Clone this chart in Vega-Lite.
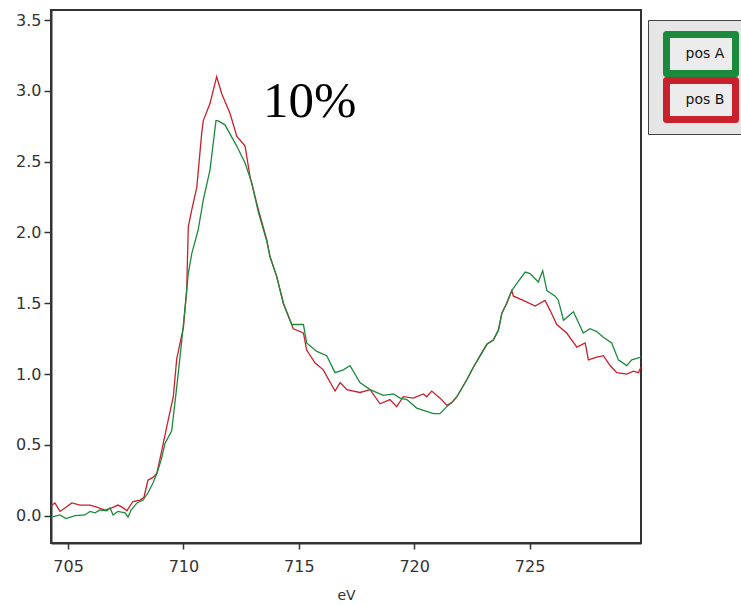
{
  "$schema": "https://vega.github.io/schema/vega-lite/v6.json",
  "autosize": {"type": "none"},
  "padding": {"left": 51, "top": 10, "right": 100, "bottom": 62},
  "width": 590,
  "height": 533,
  "background": "white",
  "config": {
    "view": {"stroke": "#333", "strokeWidth": 2},
    "axis": {"grid": false, "domainColor": "#333", "domainWidth": 2, "tickColor": "#333", "tickWidth": 1.5, "labelFont": "DejaVu Sans", "labelFontSize": 16, "labelColor": "#333", "titleFont": "DejaVu Sans", "titleFontSize": 14, "titleFontWeight": "normal", "titleColor": "#333"}
  },
  "layer": [
    {
      "data": {"values": [
        {"eV": 704.26, "v": 0.07, "s": "pos B"},
        {"eV": 704.43, "v": 0.09, "s": "pos B"},
        {"eV": 704.65, "v": 0.03, "s": "pos B"},
        {"eV": 704.91, "v": 0.06, "s": "pos B"},
        {"eV": 705.16, "v": 0.09, "s": "pos B"},
        {"eV": 705.52, "v": 0.075, "s": "pos B"},
        {"eV": 705.95, "v": 0.075, "s": "pos B"},
        {"eV": 706.24, "v": 0.06, "s": "pos B"},
        {"eV": 706.6, "v": 0.04, "s": "pos B"},
        {"eV": 706.9, "v": 0.055, "s": "pos B"},
        {"eV": 707.16, "v": 0.075, "s": "pos B"},
        {"eV": 707.34, "v": 0.06, "s": "pos B"},
        {"eV": 707.55, "v": 0.035, "s": "pos B"},
        {"eV": 707.81, "v": 0.1, "s": "pos B"},
        {"eV": 708.12, "v": 0.11, "s": "pos B"},
        {"eV": 708.29, "v": 0.13, "s": "pos B"},
        {"eV": 708.46, "v": 0.25, "s": "pos B"},
        {"eV": 708.68, "v": 0.27, "s": "pos B"},
        {"eV": 708.85, "v": 0.3, "s": "pos B"},
        {"eV": 709.06, "v": 0.46, "s": "pos B"},
        {"eV": 709.28, "v": 0.63, "s": "pos B"},
        {"eV": 709.56, "v": 0.84, "s": "pos B"},
        {"eV": 709.71, "v": 1.11, "s": "pos B"},
        {"eV": 710.0, "v": 1.33, "s": "pos B"},
        {"eV": 710.14, "v": 1.59, "s": "pos B"},
        {"eV": 710.21, "v": 2.04, "s": "pos B"},
        {"eV": 710.36, "v": 2.16, "s": "pos B"},
        {"eV": 710.58, "v": 2.32, "s": "pos B"},
        {"eV": 710.79, "v": 2.7, "s": "pos B"},
        {"eV": 710.86, "v": 2.79, "s": "pos B"},
        {"eV": 711.15, "v": 2.91, "s": "pos B"},
        {"eV": 711.44, "v": 3.1, "s": "pos B"},
        {"eV": 711.66, "v": 2.98, "s": "pos B"},
        {"eV": 712.02, "v": 2.84, "s": "pos B"},
        {"eV": 712.31, "v": 2.68, "s": "pos B"},
        {"eV": 712.67, "v": 2.61, "s": "pos B"},
        {"eV": 712.89, "v": 2.39, "s": "pos B"},
        {"eV": 713.25, "v": 2.16, "s": "pos B"},
        {"eV": 713.61, "v": 1.95, "s": "pos B"},
        {"eV": 713.75, "v": 1.83, "s": "pos B"},
        {"eV": 714.04, "v": 1.69, "s": "pos B"},
        {"eV": 714.33, "v": 1.5, "s": "pos B"},
        {"eV": 714.69, "v": 1.35, "s": "pos B"},
        {"eV": 714.76, "v": 1.32, "s": "pos B"},
        {"eV": 715.2, "v": 1.29, "s": "pos B"},
        {"eV": 715.34, "v": 1.17, "s": "pos B"},
        {"eV": 715.7, "v": 1.08, "s": "pos B"},
        {"eV": 716.06, "v": 1.03, "s": "pos B"},
        {"eV": 716.57, "v": 0.88, "s": "pos B"},
        {"eV": 716.79, "v": 0.94, "s": "pos B"},
        {"eV": 717.08, "v": 0.89, "s": "pos B"},
        {"eV": 717.65, "v": 0.87, "s": "pos B"},
        {"eV": 718.09, "v": 0.89, "s": "pos B"},
        {"eV": 718.52, "v": 0.79, "s": "pos B"},
        {"eV": 718.95, "v": 0.82, "s": "pos B"},
        {"eV": 719.24, "v": 0.77, "s": "pos B"},
        {"eV": 719.53, "v": 0.84, "s": "pos B"},
        {"eV": 719.96, "v": 0.83, "s": "pos B"},
        {"eV": 720.4, "v": 0.86, "s": "pos B"},
        {"eV": 720.54, "v": 0.84, "s": "pos B"},
        {"eV": 720.76, "v": 0.88, "s": "pos B"},
        {"eV": 721.12, "v": 0.83, "s": "pos B"},
        {"eV": 721.41, "v": 0.78, "s": "pos B"},
        {"eV": 721.64, "v": 0.8, "s": "pos B"},
        {"eV": 721.85, "v": 0.84, "s": "pos B"},
        {"eV": 722.28, "v": 0.96, "s": "pos B"},
        {"eV": 722.57, "v": 1.05, "s": "pos B"},
        {"eV": 722.86, "v": 1.13, "s": "pos B"},
        {"eV": 723.15, "v": 1.21, "s": "pos B"},
        {"eV": 723.43, "v": 1.24, "s": "pos B"},
        {"eV": 723.65, "v": 1.31, "s": "pos B"},
        {"eV": 723.8, "v": 1.43, "s": "pos B"},
        {"eV": 724.01, "v": 1.5, "s": "pos B"},
        {"eV": 724.23, "v": 1.59, "s": "pos B"},
        {"eV": 724.3, "v": 1.55, "s": "pos B"},
        {"eV": 724.73, "v": 1.52, "s": "pos B"},
        {"eV": 725.24, "v": 1.48, "s": "pos B"},
        {"eV": 725.67, "v": 1.52, "s": "pos B"},
        {"eV": 725.89, "v": 1.45, "s": "pos B"},
        {"eV": 726.18, "v": 1.35, "s": "pos B"},
        {"eV": 726.61, "v": 1.29, "s": "pos B"},
        {"eV": 727.05, "v": 1.19, "s": "pos B"},
        {"eV": 727.41, "v": 1.22, "s": "pos B"},
        {"eV": 727.55, "v": 1.1, "s": "pos B"},
        {"eV": 727.91, "v": 1.12, "s": "pos B"},
        {"eV": 728.2, "v": 1.13, "s": "pos B"},
        {"eV": 728.49, "v": 1.06, "s": "pos B"},
        {"eV": 728.78, "v": 1.01, "s": "pos B"},
        {"eV": 729.21, "v": 1.0, "s": "pos B"},
        {"eV": 729.5, "v": 1.02, "s": "pos B"},
        {"eV": 729.72, "v": 1.01, "s": "pos B"},
        {"eV": 729.83, "v": 1.05, "s": "pos B"},
        {"eV": 704.26, "v": -0.01, "s": "pos A"},
        {"eV": 704.65, "v": 0.005, "s": "pos A"},
        {"eV": 704.91, "v": -0.02, "s": "pos A"},
        {"eV": 705.3, "v": 0.0, "s": "pos A"},
        {"eV": 705.73, "v": 0.005, "s": "pos A"},
        {"eV": 705.95, "v": 0.03, "s": "pos A"},
        {"eV": 706.17, "v": 0.02, "s": "pos A"},
        {"eV": 706.38, "v": 0.04, "s": "pos A"},
        {"eV": 706.69, "v": 0.035, "s": "pos A"},
        {"eV": 706.82, "v": 0.055, "s": "pos A"},
        {"eV": 706.95, "v": 0.005, "s": "pos A"},
        {"eV": 707.16, "v": 0.03, "s": "pos A"},
        {"eV": 707.47, "v": 0.02, "s": "pos A"},
        {"eV": 707.6, "v": -0.01, "s": "pos A"},
        {"eV": 707.73, "v": 0.04, "s": "pos A"},
        {"eV": 707.99, "v": 0.09, "s": "pos A"},
        {"eV": 708.25, "v": 0.11, "s": "pos A"},
        {"eV": 708.46, "v": 0.16, "s": "pos A"},
        {"eV": 708.68, "v": 0.23, "s": "pos A"},
        {"eV": 708.85, "v": 0.3, "s": "pos A"},
        {"eV": 709.03, "v": 0.39, "s": "pos A"},
        {"eV": 709.2, "v": 0.51, "s": "pos A"},
        {"eV": 709.49, "v": 0.6, "s": "pos A"},
        {"eV": 709.71, "v": 0.91, "s": "pos A"},
        {"eV": 709.93, "v": 1.24, "s": "pos A"},
        {"eV": 710.1, "v": 1.52, "s": "pos A"},
        {"eV": 710.21, "v": 1.71, "s": "pos A"},
        {"eV": 710.36, "v": 1.85, "s": "pos A"},
        {"eV": 710.64, "v": 2.02, "s": "pos A"},
        {"eV": 710.86, "v": 2.23, "s": "pos A"},
        {"eV": 711.15, "v": 2.44, "s": "pos A"},
        {"eV": 711.41, "v": 2.79, "s": "pos A"},
        {"eV": 711.49, "v": 2.79, "s": "pos A"},
        {"eV": 711.8, "v": 2.76, "s": "pos A"},
        {"eV": 712.31, "v": 2.61, "s": "pos A"},
        {"eV": 712.67, "v": 2.49, "s": "pos A"},
        {"eV": 712.96, "v": 2.35, "s": "pos A"},
        {"eV": 713.25, "v": 2.14, "s": "pos A"},
        {"eV": 713.61, "v": 1.94, "s": "pos A"},
        {"eV": 713.75, "v": 1.83, "s": "pos A"},
        {"eV": 714.04, "v": 1.69, "s": "pos A"},
        {"eV": 714.33, "v": 1.5, "s": "pos A"},
        {"eV": 714.69, "v": 1.35, "s": "pos A"},
        {"eV": 715.2, "v": 1.35, "s": "pos A"},
        {"eV": 715.34, "v": 1.22, "s": "pos A"},
        {"eV": 715.78, "v": 1.16, "s": "pos A"},
        {"eV": 716.21, "v": 1.13, "s": "pos A"},
        {"eV": 716.57, "v": 1.01, "s": "pos A"},
        {"eV": 716.93, "v": 1.03, "s": "pos A"},
        {"eV": 717.22, "v": 1.06, "s": "pos A"},
        {"eV": 717.65, "v": 0.94, "s": "pos A"},
        {"eV": 718.09, "v": 0.89, "s": "pos A"},
        {"eV": 718.66, "v": 0.85, "s": "pos A"},
        {"eV": 719.1, "v": 0.86, "s": "pos A"},
        {"eV": 719.39, "v": 0.83, "s": "pos A"},
        {"eV": 719.68, "v": 0.82, "s": "pos A"},
        {"eV": 720.11, "v": 0.76, "s": "pos A"},
        {"eV": 720.83, "v": 0.72, "s": "pos A"},
        {"eV": 721.12, "v": 0.72, "s": "pos A"},
        {"eV": 721.41, "v": 0.77, "s": "pos A"},
        {"eV": 721.64, "v": 0.8, "s": "pos A"},
        {"eV": 721.85, "v": 0.84, "s": "pos A"},
        {"eV": 722.28, "v": 0.96, "s": "pos A"},
        {"eV": 722.57, "v": 1.05, "s": "pos A"},
        {"eV": 722.86, "v": 1.13, "s": "pos A"},
        {"eV": 723.15, "v": 1.21, "s": "pos A"},
        {"eV": 723.43, "v": 1.24, "s": "pos A"},
        {"eV": 723.65, "v": 1.31, "s": "pos A"},
        {"eV": 723.8, "v": 1.43, "s": "pos A"},
        {"eV": 724.01, "v": 1.5, "s": "pos A"},
        {"eV": 724.23, "v": 1.59, "s": "pos A"},
        {"eV": 724.45, "v": 1.64, "s": "pos A"},
        {"eV": 724.81, "v": 1.72, "s": "pos A"},
        {"eV": 725.02, "v": 1.71, "s": "pos A"},
        {"eV": 725.38, "v": 1.65, "s": "pos A"},
        {"eV": 725.57, "v": 1.73, "s": "pos A"},
        {"eV": 725.75, "v": 1.59, "s": "pos A"},
        {"eV": 726.11, "v": 1.55, "s": "pos A"},
        {"eV": 726.25, "v": 1.52, "s": "pos A"},
        {"eV": 726.47, "v": 1.38, "s": "pos A"},
        {"eV": 726.9, "v": 1.44, "s": "pos A"},
        {"eV": 727.33, "v": 1.29, "s": "pos A"},
        {"eV": 727.62, "v": 1.32, "s": "pos A"},
        {"eV": 727.91, "v": 1.3, "s": "pos A"},
        {"eV": 728.2, "v": 1.26, "s": "pos A"},
        {"eV": 728.56, "v": 1.22, "s": "pos A"},
        {"eV": 728.85, "v": 1.1, "s": "pos A"},
        {"eV": 729.21, "v": 1.06, "s": "pos A"},
        {"eV": 729.43, "v": 1.1, "s": "pos A"},
        {"eV": 729.83, "v": 1.12, "s": "pos A"}
      ]},
      "mark": {"type": "line", "strokeWidth": 1.3, "clip": true},
      "encoding": {
        "x": {"field": "eV", "type": "quantitative", "title": "eV",
          "scale": {"domain": [704.26, 729.83], "nice": false, "zero": false},
          "axis": {"values": [705, 710, 715, 720, 725], "tickSize": 6, "labelPadding": 9, "titlePadding": 14}},
        "y": {"field": "v", "type": "quantitative", "title": null,
          "scale": {"domain": [-0.193, 3.571], "nice": false, "zero": false},
          "axis": {"values": [0, 0.5, 1, 1.5, 2, 2.5, 3, 3.5], "format": ".1f", "tickSize": 7, "labelPadding": 3}},
        "color": {"field": "s", "type": "nominal",
          "scale": {"domain": ["pos A", "pos B"], "range": ["#1c8a3c", "#c8202c"]},
          "legend": {
            "title": null, "orient": "none", "legendX": 597, "legendY": 10,
            "padding": 11, "fillColor": "#e6e6e6", "strokeColor": "#444",
            "symbolType": "M-1.77,-1H1.77V1H-1.77Z", "symbolSize": 1521, "symbolStrokeWidth": 7,
            "symbolFillColor": "#ececec", "symbolOffset": 19, "rowPadding": -8,
            "labelAlign": "center", "labelOffset": -19, "labelFont": "DejaVu Sans", "labelFontSize": 14, "labelColor": "#111",
            "encode": {"symbols": {"update": {"fill": {"value": "#ececec"}, "strokeWidth": {"value": 7}, "strokeJoin": {"value": "round"}, "opacity": {"value": 1}}}}
          }},
        "order": {"field": "s", "sort": "ascending"}
      }
    },
    {
      "data": {"values": [{"eV": 713.45, "v": 2.816, "t": "10%"}]},
      "mark": {"type": "text", "font": "Liberation Serif", "fontSize": 51, "align": "left", "baseline": "alphabetic", "color": "black"},
      "encoding": {
        "x": {"field": "eV", "type": "quantitative"},
        "y": {"field": "v", "type": "quantitative"},
        "text": {"field": "t"}
      }
    }
  ]
}
